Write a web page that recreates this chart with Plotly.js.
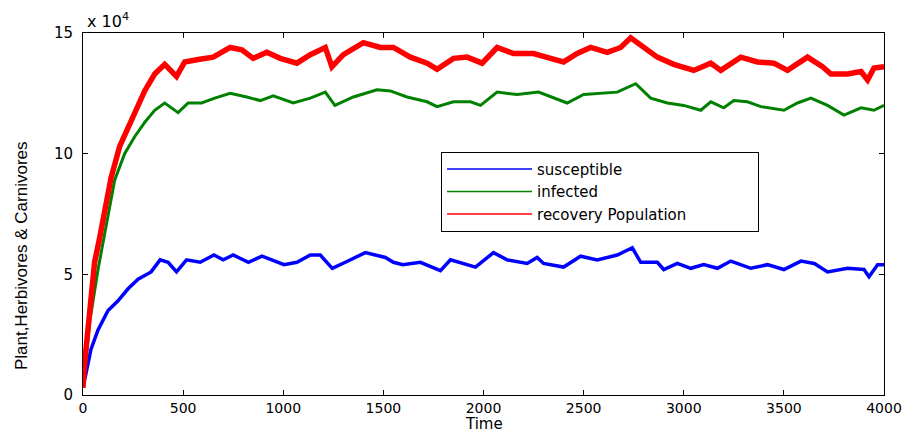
<!DOCTYPE html>
<html>
<head>
<meta charset="utf-8">
<script src="https://cdn.plot.ly/plotly-3.0.1.min.js"></script>
<style>html,body{margin:0;padding:0;background:#fff;}#chart{width:909px;height:434px;}</style>
</head>
<body>
<div id="chart"></div>
<script>
// Values (population in individuals; axis shows x10^4)
const susceptibleTime = [0,10,40,75,125,175,225,275,340,385,425,467,517,585,654,700,750,826,894,1004,1068,1135,1185,1245,1310,1410,1510,1550,1597,1685,1785,1835,1960,2050,2118,2218,2268,2300,2400,2485,2568,2668,2743,2785,2868,2900,2968,3035,3100,3168,3235,3335,3418,3500,3585,3652,3718,3818,3900,3925,3968,4000];
const susceptible = [0.4,0.7,1.9,2.7,3.5,3.9,4.4,4.8,5.1,5.6,5.5,5.1,5.6,5.5,5.8,5.6,5.8,5.5,5.75,5.4,5.5,5.8,5.8,5.25,5.5,5.9,5.7,5.5,5.4,5.5,5.15,5.6,5.3,5.9,5.6,5.45,5.7,5.45,5.3,5.75,5.6,5.8,6.1,5.5,5.5,5.2,5.45,5.25,5.4,5.25,5.55,5.25,5.4,5.2,5.55,5.45,5.1,5.25,5.2,4.9,5.4,5.4].map(v => v * 1e4);

const infectedTime = [0,8,33,75,117,158,208,258,308,358,408,475,525,592,658,735,818,885,950,1050,1135,1210,1258,1350,1468,1535,1618,1718,1768,1850,1935,1985,2068,2168,2275,2350,2418,2500,2585,2668,2760,2835,2918,3000,3085,3135,3200,3250,3318,3385,3500,3568,3635,3718,3800,3885,3950,4000];
const infected = [0.3,0.9,3.0,5.2,7.0,8.9,10.0,10.7,11.3,11.8,12.1,11.7,12.1,12.1,12.3,12.5,12.35,12.2,12.4,12.1,12.3,12.55,12.0,12.35,12.65,12.6,12.35,12.15,11.95,12.15,12.15,12.0,12.55,12.45,12.55,12.3,12.1,12.45,12.5,12.55,12.9,12.3,12.1,12.0,11.8,12.15,11.9,12.2,12.15,11.95,11.8,12.1,12.3,12.0,11.6,11.9,11.8,12.0].map(v => v * 1e4);

const recoveryTime = [0,8,33,58,83,108,140,183,225,267,308,358,408,467,508,575,650,735,793,850,918,985,1068,1135,1210,1243,1300,1400,1485,1550,1635,1718,1768,1850,1918,1993,2068,2150,2250,2335,2400,2468,2535,2618,2685,2735,2785,2868,2950,3050,3135,3185,3285,3368,3450,3518,3618,3693,3735,3818,3885,3918,3950,4000];
const recovery = [0.3,1.3,3.4,5.5,6.5,7.7,9.0,10.3,11.1,11.9,12.6,13.3,13.7,13.2,13.8,13.9,14.0,14.4,14.3,13.95,14.2,13.95,13.75,14.1,14.4,13.6,14.1,14.6,14.4,14.4,14.0,13.75,13.5,13.95,14.0,13.75,14.4,14.15,14.15,13.95,13.8,14.15,14.4,14.2,14.4,14.8,14.5,14.0,13.7,13.45,13.75,13.45,14.0,13.8,13.75,13.45,14.0,13.6,13.3,13.3,13.4,13.05,13.55,13.6].map(v => v * 1e4);

const seriesNames = ['susceptible','infected','recovery Population'];
const seriesColors = ['#0000ff','#008000','#ff0000'];
const xTickVals = [0,500,1000,1500,2000,2500,3000,3500,4000];
const yTickVals = [0,50000,100000,150000];
const yTickText = ['0','5','10','15'];

const tickFont = {family: 'DejaVu Sans, sans-serif', size: 15, color: '#000'};
const xTickFont = {family: 'DejaVu Sans, sans-serif', size: 14, color: '#000'};
const pad = '\u00a0'.repeat(14);

const dataTraces = [
  {x: susceptibleTime, y: susceptible, name: seriesNames[0], type: 'scatter', mode: 'lines', showlegend: false, line: {color: seriesColors[0], width: 3.5}},
  {x: infectedTime, y: infected, name: seriesNames[1], type: 'scatter', mode: 'lines', showlegend: false, line: {color: seriesColors[1], width: 3}},
  {x: recoveryTime, y: recovery, name: seriesNames[2], type: 'scatter', mode: 'lines', showlegend: false, line: {color: seriesColors[2], width: 5.5}}
];
// legend entries (thin lines, as in the reference legend)
const legendTraces = seriesNames.map((n, i) => ({
  x: [null], y: [null], name: n + pad, type: 'scatter', mode: 'lines',
  line: {color: seriesColors[i], width: 1.5}, showlegend: true
}));

const layout = {
  width: 909, height: 434,
  margin: {l: 83, r: 25, t: 33, b: 39, pad: 0},
  paper_bgcolor: '#fff', plot_bgcolor: '#fff',
  showlegend: true,
  legend: {
    x: 0.447, y: 0.672, xanchor: 'left', yanchor: 'top',
    bgcolor: '#fff', bordercolor: '#000', borderwidth: 1,
    font: {family: 'DejaVu Sans, sans-serif', size: 15, color: '#000'},
    tracegroupgap: 0, itemwidth: 85
  },
  xaxis: {
    range: [0, 4000], tickvals: xTickVals, ticks: 'inside', ticklen: 5, tickcolor: '#000',
    showline: true, linecolor: '#000', linewidth: 1, mirror: 'ticks', showgrid: false, zeroline: false,
    tickfont: xTickFont
  },
  yaxis: {
    range: [0, 150000], tickvals: yTickVals, ticktext: yTickText, ticks: 'inside', ticklen: 5, tickcolor: '#000',
    showline: true, linecolor: '#000', linewidth: 1, mirror: 'ticks', showgrid: false, zeroline: false,
    tickfont: tickFont, ticklabelstandoff: 6
  },
  annotations: [
    {xref: 'paper', yref: 'paper', x: 0.002, y: 1.0, xanchor: 'left', yanchor: 'bottom',
     text: 'x 10<sup>4</sup>', showarrow: false, font: {family: 'DejaVu Sans, sans-serif', size: 16, color: '#000'}},
    {xref: 'paper', yref: 'paper', x: 0.5, y: -0.105, xanchor: 'center', yanchor: 'bottom', yshift: -2,
     text: 'Time', showarrow: false, font: {family: 'DejaVu Sans, sans-serif', size: 15, color: '#000'}},
    {xref: 'paper', yref: 'paper', x: -0.076, y: 0.384, xanchor: 'center', yanchor: 'middle', textangle: -90,
     text: 'Plant,Herbivores & Carnivores', showarrow: false, font: {family: 'Liberation Sans, Arial, sans-serif', size: 17, color: '#000'}}
  ]
};

Plotly.newPlot('chart', dataTraces.concat(legendTraces), layout, {displayModeBar: false, staticPlot: true});
</script>
</body>
</html>
